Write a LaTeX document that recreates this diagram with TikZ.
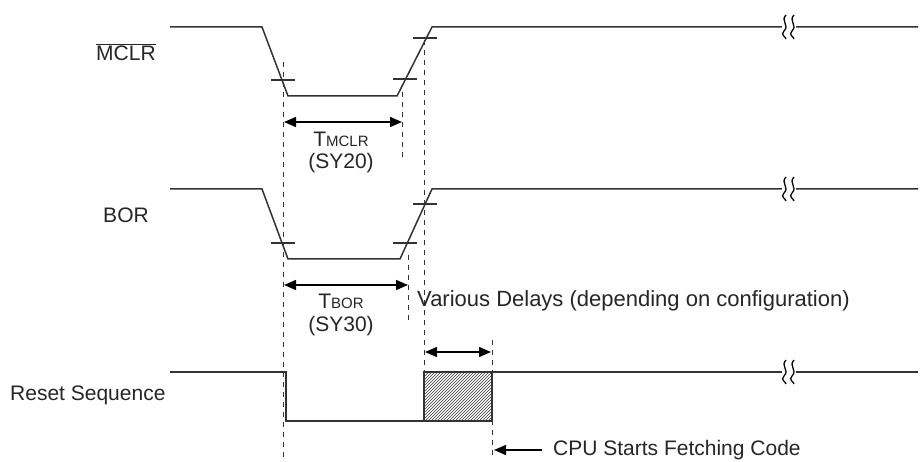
\documentclass[tikz,border=0pt]{standalone}
\usepackage{fontspec}
\setmainfont{Liberation Sans}
\usetikzlibrary{arrows.meta,patterns}
\begin{document}
\begin{tikzpicture}[x=1pt,y=-1pt,
  sig/.style={line width=1.5pt,black!80},
  dsh/.style={dashed,dash pattern=on 5pt off 5pt,line width=1pt,black!80},
  dim/.style={line width=1.5pt,{Triangle[length=12pt,width=10pt]}-{Triangle[length=12pt,width=10pt]}},
  lbl/.style={font=\fontsize{21}{23}\selectfont,inner sep=0pt,black!85}]
\useasboundingbox (0,0) rectangle (923,462);
\fill[white] (0,0) rectangle (923,462);
% MCLR
\draw[sig] (170,27) -- (262,27) -- (288,96) -- (397,96) -- (432,27) -- (918,27);
\draw[sig] (271,80) -- (295,80);
\draw[sig] (393,79) -- (417,79);
\draw[sig] (413,38) -- (437,38);
% BOR
\draw[sig] (170,189) -- (262,189) -- (288,259) -- (400,259) -- (432,189) -- (918,189);
\draw[sig] (271,243) -- (295,243);
\draw[sig] (393,243) -- (417,243);
\draw[sig] (413,204) -- (437,204);
% Reset
\draw[sig] (170,372) -- (286,372) -- (286,421) -- (492,421);
\draw[sig,pattern=north east lines,pattern color=black!80] (424,372) rectangle (492,421);
\draw[sig] (492,372) -- (918,372);
% breaks
\foreach \y in {27,189,372}{
  \fill[white] (782,\y-12) rectangle (796,\y+12);
  \draw[line width=1.3pt] (786,\y-12) .. controls (780,\y-6) and (790,\y-2) .. (784,\y+4) .. controls (780,\y+8) and (786,\y+10) .. (786,\y+12);
  \draw[line width=1.3pt] (794,\y-12) .. controls (788,\y-6) and (798,\y-2) .. (792,\y+4) .. controls (788,\y+8) and (794,\y+10) .. (794,\y+12);
}
% dashed
\draw[dsh] (283,62) -- (283,457);
\draw[dsh] (402,92) -- (402,160);
\draw[dsh] (408,255) -- (408,322);
\draw[dsh] (424,40) -- (424,372);
\draw[dsh] (492,340) -- (492,457);
% dims
\coordinate (a1) at (284,122); \coordinate (b1) at (402,122);
\draw[dim] (a1) -- (b1);
\coordinate (a2) at (284,285); \coordinate (b2) at (408,285);
\draw[dim] (a2) -- (b2);
\coordinate (a3) at (425,352); \coordinate (b3) at (491,352);
\draw[dim] (a3) -- (b3);
\coordinate (c1) at (542,450); \coordinate (c2) at (494,450);
\draw[line width=1.5pt,-{Triangle[length=12pt,width=10pt]}] (c1) -- (c2);
% labels
\node[lbl] (tm) at (341,139) {T\fontsize{15}{17}\selectfont MCLR};
\node[lbl] (sy20) at (341,163) {(SY20)};
\node[lbl] (tb) at (341,301) {T\fontsize{15}{17}\selectfont BOR};
\node[lbl] (sy30) at (341,326) {(SY30)};
\node[lbl,anchor=west,font=\fontsize{22}{24}\selectfont] (vd) at (417,301) {Various Delays (depending on configuration)};
\node[lbl,anchor=west] (cpu) at (553,450) {CPU Starts Fetching Code};
\node[lbl] (mclr) at (126,52) {$\overline{\mbox{MCLR}}$};
\node[lbl] (bor) at (126,215) {BOR};
\node[lbl,anchor=west] (rs) at (10,395) {Reset Sequence};
\end{tikzpicture}
\end{document}
